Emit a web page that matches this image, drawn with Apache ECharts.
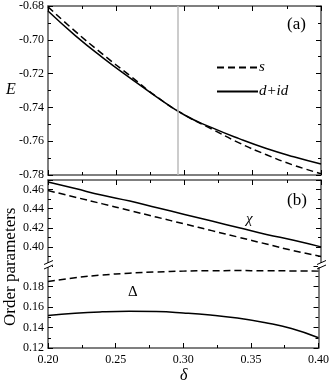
<!DOCTYPE html>
<html>
<head>
<meta charset="UTF-8">
<title></title>
<script src="https://cdn.jsdelivr.net/npm/echarts@6/dist/echarts.min.js"></script>
<style>
  html, body { margin: 0; padding: 0; background: #fff; }
  #chart { width: 332px; height: 388px; }
</style>
</head>
<body>
<div id="chart"></div>
<script>
// doping delta
var deltaVals = [0.20, 0.22, 0.24, 0.26, 0.28, 0.30, 0.32, 0.34, 0.36, 0.38, 0.40];
// energy, panel (a)
var energyS   = [-0.6805, -0.6950, -0.7085, -0.7212, -0.7339, -0.7445, -0.7528, -0.7610, -0.7680, -0.7742, -0.7792];
var energyD   = [-0.6830, -0.6975, -0.7105, -0.7225, -0.7340, -0.7445, -0.7520, -0.7585, -0.7643, -0.7692, -0.7735];
// chi, panel (b) upper part
var chiS = [0.459, 0.452, 0.445, 0.438, 0.431, 0.424, 0.417, 0.410, 0.403, 0.396, 0.390];
var chiD = [0.468, 0.461, 0.454, 0.448, 0.441, 0.434, 0.427, 0.420, 0.413, 0.407, 0.400];
// Delta, panel (b) lower part
var gapS = [0.1848, 0.1885, 0.1912, 0.1930, 0.1942, 0.1950, 0.1954, 0.1955, 0.1954, 0.1952, 0.1950];
var gapD = [0.1518, 0.1540, 0.1553, 0.1558, 0.1555, 0.1542, 0.1522, 0.1492, 0.1448, 0.1390, 0.1300];
var markDelta = 0.295;

var font = 'Liberation Serif';
var axisCol = '#555';

function pairs(ys) {
  var out = [];
  for (var i = 0; i < deltaVals.length; i++) out.push([deltaVals[i], ys[i]]);
  return out;
}

function xAx(grid, pos, labels) {
  return {
    type: 'value', gridIndex: grid, position: pos,
    min: 0.2, max: 0.4, interval: 0.05,
    axisLine: { show: true, onZero: false, lineStyle: { color: axisCol, width: 1.5 } },
    axisTick: { show: true, inside: true, length: 5, lineStyle: { color: '#000' } },
    minorTick: { show: true, splitNumber: 2, length: 3, lineStyle: { color: '#000' } },
    splitLine: { show: false },
    axisLabel: { show: labels, fontFamily: font, fontSize: 12, color: '#000', margin: 6,
      formatter: function (v) { return v.toFixed(2); } }
  };
}

function yAx(grid, pos, min, max, labels, hide) {
  return {
    type: 'value', gridIndex: grid, position: pos,
    min: min, max: max, interval: 0.02,
    axisLine: { show: true, onZero: false, lineStyle: { color: axisCol, width: 1.5 } },
    axisTick: { show: true, inside: true, length: 5, lineStyle: { color: '#000' } },
    minorTick: { show: true, splitNumber: 2, length: 3, lineStyle: { color: '#000' } },
    splitLine: { show: false },
    axisLabel: { show: labels, fontFamily: font, fontSize: 12, color: '#000', margin: 4,
      showMinLabel: !hide.min, showMaxLabel: !hide.max,
      formatter: function (v) {
        var r = Math.round(v * 100);
        if (r % 2 !== 0) return '';
        return v.toFixed(2);
      } }
  };
}

function line(name, xi, yi, data, dashed) {
  return {
    name: name, type: 'line', xAxisIndex: xi, yAxisIndex: yi,
    data: pairs(data), symbol: 'none', smooth: true,
    lineStyle: { color: '#000', width: 1.5, type: dashed ? [7, 4] : 'solid' },
    itemStyle: { color: '#000' }
  };
}

var chart = echarts.init(document.getElementById('chart'));

var sTop = line('s', 0, 0, energyS, true);
sTop.markLine = {
  silent: true, symbol: 'none', precision: 4, label: { show: false },
  lineStyle: { color: '#bbb', width: 1.5, type: 'solid' },
  data: [{ xAxis: markDelta }]
};

var option = {
  animation: false,
  grid: [
    { left: 48, top: 5, width: 273, height: 170 },
    { left: 48, top: 180, width: 273, height: 86 },
    { left: 48, top: 266, width: 273, height: 82 }
  ],
  xAxis: [
    xAx(0, 'bottom', false),
    xAx(0, 'top', false),
    xAx(1, 'top', false),
    xAx(2, 'bottom', true)
  ],
  yAxis: [
    yAx(0, 'left', -0.78, -0.68, true, {}),
    yAx(0, 'right', -0.78, -0.68, false, {}),
    yAx(1, 'left', 0.38, 0.47, true, { min: true, max: true }),
    yAx(1, 'right', 0.38, 0.47, false, {}),
    yAx(2, 'left', 0.12, 0.20, true, { max: true }),
    yAx(2, 'right', 0.12, 0.20, false, {})
  ],
  legend: {
    data: ['s', 'd+id'],
    orient: 'vertical', left: 211, top: 55, itemGap: 9,
    itemWidth: 41, itemHeight: 14,
    itemStyle: { opacity: 0 },
    textStyle: { fontFamily: font, fontStyle: 'italic', fontSize: 15, color: '#000', padding: [0, 0, 0, -4] }
  },
  series: [
    sTop,
    line('d+id', 0, 0, energyD, false),
    line('chi s', 2, 2, chiS, true),
    line('chi d', 2, 2, chiD, false),
    line('gap s', 3, 4, gapS, true),
    line('gap d', 3, 4, gapD, false)
  ],
  graphic: [
    { type: 'text', left: 287, top: 16, style: { text: '(a)', font: '17px "Liberation Serif"', fill: '#000' } },
    { type: 'text', left: 287, top: 192, style: { text: '(b)', font: '17px "Liberation Serif"', fill: '#000' } },
    { type: 'text', left: 246, top: 212, style: { text: 'χ', font: 'italic 15px "Liberation Serif"', fill: '#000' } },
    { type: 'text', left: 128, top: 285, style: { text: 'Δ', font: '15px "Liberation Serif"', fill: '#000' } },
    { type: 'text', left: 6, top: 82, style: { text: 'E', font: 'italic 16px "Liberation Serif"', fill: '#000' } },
    { type: 'text', left: 180, top: 368, style: { text: 'δ', font: 'italic 16px "Liberation Serif"', fill: '#000' } },
    { type: 'text', x: 2, y: 326, rotation: Math.PI / 2,
      style: { text: 'Order parameters', font: '17px "Liberation Serif"', fill: '#000' } },
    // axis break marks
    { type: 'rect', shape: { x: 45, y: 263, width: 7, height: 4 }, style: { fill: '#fff' }, z: 100 },
    { type: 'line', shape: { x1: 44, y1: 264.5, x2: 53, y2: 260.5 }, style: { stroke: '#000', lineWidth: 1 }, z: 101 },
    { type: 'line', shape: { x1: 44, y1: 269, x2: 53, y2: 265 }, style: { stroke: '#000', lineWidth: 1 }, z: 101 },
    { type: 'rect', shape: { x: 318, y: 263, width: 7, height: 4 }, style: { fill: '#fff' }, z: 100 },
    { type: 'line', shape: { x1: 317, y1: 264.5, x2: 326, y2: 260.5 }, style: { stroke: '#000', lineWidth: 1 }, z: 101 },
    { type: 'line', shape: { x1: 317, y1: 269, x2: 326, y2: 265 }, style: { stroke: '#000', lineWidth: 1 }, z: 101 }
  ]
};

chart.setOption(option);
</script>
</body>
</html>
